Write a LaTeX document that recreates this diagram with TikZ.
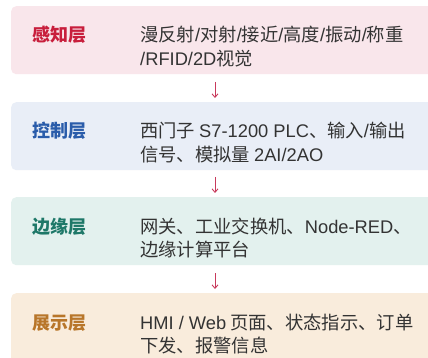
\documentclass[tikz,border=0pt]{standalone}
\usepackage{fontspec}
\setmainfont{Liberation Sans}
\newfontfamily\cjk{Noto Sans CJK SC}
\newfontfamily\latfont{Liberation Sans}
\usetikzlibrary{arrows.meta}
\definecolor{bgA}{HTML}{F9E6EB}
\definecolor{bgB}{HTML}{E9EEF7}
\definecolor{bgC}{HTML}{E3F1EE}
\definecolor{bgD}{HTML}{F9ECDC}
\definecolor{tA}{HTML}{C81E3C}
\definecolor{tB}{HTML}{2A5CAA}
\definecolor{tC}{HTML}{1E7868}
\definecolor{tD}{HTML}{B8762A}
\definecolor{body}{HTML}{333333}
\definecolor{arr}{HTML}{C83A5C}
\newcommand\lt[1]{{\latfont #1}}
\tikzset{
  layerbox/.style={draw=none, rounded corners=5pt, anchor=north west, minimum width=440pt, minimum height=68pt, inner sep=0pt},
  layerlabel/.style={anchor=base west, inner sep=0pt, font=\cjk\bfseries\fontsize{18pt}{22pt}\selectfont},
  bodytext/.style={anchor=base west, inner sep=0pt, text=body, font=\cjk\fontsize{18.3pt}{22pt}\selectfont},
  flowarrow/.style={draw=arr, line width=0.9pt, -{Straight Barb[length=3.5pt,width=6pt,line width=0.9pt]}}
}
\begin{document}
\begin{tikzpicture}[x=1pt,y=-1pt]
\useasboundingbox (0,0) rectangle (428,358);
\clip (0,0) rectangle (428,358);
\fill[white] (0,0) rectangle (428,358);
% boxes
\node[layerbox, fill=bgA] (b1) at (11,6) {};
\node[layerbox, fill=bgB] (b2) at (11,102) {};
\node[layerbox, fill=bgC] (b3) at (11,197) {};
\node[layerbox, fill=bgD, minimum height=80pt] (b4) at (11,293) {};
% labels
\node[layerlabel, text=tA] (l1) at (32,42) {感知层};
\node[layerlabel, text=tB] (l2) at (32,138) {控制层};
\node[layerlabel, text=tC] (l3) at (32,233) {边缘层};
\node[layerlabel, text=tD] (l4) at (32,329) {展示层};
% body
\node[bodytext] (t1a) at (140,42) {漫反射\lt{/}对射\lt{/}接近\lt{/}高度\lt{/}振动\lt{/}称重};
\node[bodytext] (t1b) at (140,65.5) {\lt{/RFID/2D}视觉};
\node[bodytext] (t2a) at (140,138) {西门子 \lt{S7-1200 PLC}、输入\lt{/}输出};
\node[bodytext] (t2b) at (140,161.5) {信号、模拟量 \lt{2AI/2AO}};
\node[bodytext] (t3a) at (140,233) {网关、工业交换机、\lt{Node-RED}、};
\node[bodytext] (t3b) at (140,256.5) {边缘计算平台};
\node[bodytext] (t4a) at (140,329) {\lt{HMI / Web} 页面、状态指示、订单};
\node[bodytext] (t4b) at (140,352.5) {下发、报警信息};
% arrows
\coordinate (a1s) at (215,82); \coordinate (a1e) at (215,98);
\coordinate (a2s) at (215,177); \coordinate (a2e) at (215,193);
\coordinate (a3s) at (215,273); \coordinate (a3e) at (215,289);
\draw[flowarrow] (a1s) -- (a1e);
\draw[flowarrow] (a2s) -- (a2e);
\draw[flowarrow] (a3s) -- (a3e);
\end{tikzpicture}
\end{document}
